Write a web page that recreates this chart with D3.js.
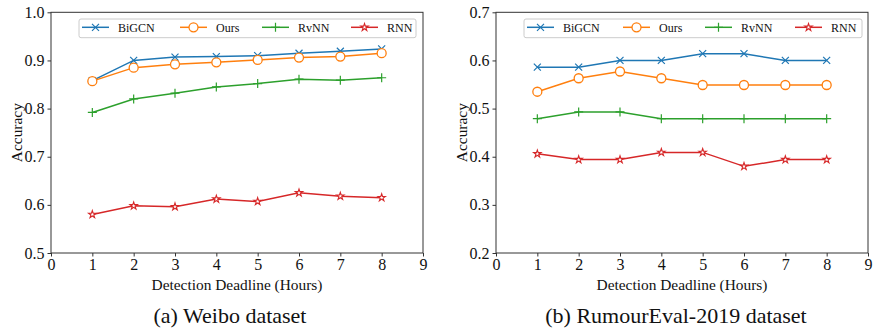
<!DOCTYPE html>
<html><head><meta charset="utf-8">
<script src="https://cdn.jsdelivr.net/npm/d3@7/dist/d3.min.js"></script>
<style>body{margin:0;background:#fff}svg{display:block}text{font-family:"Liberation Serif","Times New Roman",serif}</style>
</head><body><svg id="c" width="873" height="329"></svg>
<script>
const hours = [1,2,3,4,5,6,7,8];
const xTicks = [0,1,2,3,4,5,6,7,8,9];
const seriesNames = ["BiGCN","Ours","RvNN","RNN"];
// Weibo
const weiboBiGCN = [0.858,0.900,0.907,0.908,0.910,0.915,0.919,0.924];
const weiboOurs  = [0.857,0.885,0.892,0.896,0.901,0.906,0.908,0.915];
const weiboRvNN  = [0.792,0.820,0.832,0.845,0.852,0.861,0.859,0.864];
const weiboRNN   = [0.580,0.598,0.596,0.612,0.607,0.625,0.618,0.615];
const weiboYTicks = [0.5,0.6,0.7,0.8,0.9,1.0];
// RumourEval-2019
const rumBiGCN = [0.586,0.586,0.600,0.600,0.614,0.614,0.600,0.600];
const rumOurs  = [0.535,0.563,0.577,0.563,0.549,0.549,0.549,0.549];
const rumRvNN  = [0.479,0.493,0.493,0.479,0.479,0.479,0.479,0.479];
const rumRNN   = [0.406,0.394,0.394,0.409,0.409,0.380,0.394,0.394];
const rumYTicks = [0.2,0.3,0.4,0.5,0.6,0.7];

const colors = ["#1f77b4","#ff7f0e","#2ca02c","#d62728"];
const markers = ["x","o","+","star"];
const svg = d3.select("#c");

function marker(g, type, color){
  if(type==="x"){
    g.append("path").attr("d","M-3.5,-3.5L3.5,3.5M-3.5,3.5L3.5,-3.5").attr("stroke",color).attr("stroke-width",1.2).attr("fill","none");
  } else if(type==="o"){
    g.append("circle").attr("r",4.5).attr("fill","#fff").attr("stroke",color).attr("stroke-width",1.3);
  } else if(type==="+"){
    g.append("path").attr("d","M-4.5,0L4.5,0M0,-4.5L0,4.5").attr("stroke",color).attr("stroke-width",1.2).attr("fill","none");
  } else {
    g.append("path").attr("d",d3.symbol(d3.symbolStar,17)()).attr("fill","#fff").attr("stroke",color).attr("stroke-width",1.1);
  }
}

function panel(cfg){
  const x = d3.scaleLinear().domain([0,9]).range([cfg.left,cfg.right]);
  const y = d3.scaleLinear().domain([cfg.yTicks[0],cfg.yTicks[cfg.yTicks.length-1]]).range([253,12.3]);
  const g = svg.append("g");
  cfg.data.forEach((vals,i)=>{
    const line = d3.line().x((d,j)=>x(hours[j])).y(d=>y(d));
    g.append("path").datum(vals).attr("d",line).attr("fill","none").attr("stroke",colors[i]).attr("stroke-width",1.5);
    vals.forEach((v,j)=>{
      const m = g.append("g").attr("transform",`translate(${x(hours[j])},${y(v)})`);
      marker(m, markers[i], colors[i]);
    });
  });
  g.append("rect").attr("x",cfg.left).attr("y",12.3).attr("width",cfg.right-cfg.left).attr("height",253-12.3)
    .attr("fill","none").attr("stroke","#333").attr("stroke-width",1);
  const xa = g.append("g").attr("transform","translate(0,253)")
    .call(d3.axisBottom(x).tickValues(xTicks).tickFormat(d3.format("d")).tickSize(3.5).tickPadding(2));
  const ya = g.append("g").attr("transform",`translate(${cfg.left},0)`)
    .call(d3.axisLeft(y).tickValues(cfg.yTicks).tickFormat(d3.format(".1f")).tickSize(3.5).tickPadding(3));
  [xa,ya].forEach(a=>{
    a.select(".domain").remove();
    a.selectAll("line").attr("stroke","#333");
    a.selectAll("text").attr("font-size",16).attr("fill","#111").style("font-family","Liberation Serif");
  });
  xa.selectAll("text").attr("dy","0.71em");
  g.append("text").attr("x",(cfg.left+cfg.right)/2).attr("y",290).attr("text-anchor","middle")
    .attr("font-size",15.4).attr("fill","#111").text("Detection Deadline (Hours)");
  g.append("text").attr("transform",`translate(${cfg.left-29},${(12.3+253)/2}) rotate(-90)`).attr("text-anchor","middle")
    .attr("font-size",15.4).attr("fill","#111").text("Accuracy");
  g.append("text").attr("x",cfg.capX).attr("y",323).attr("text-anchor","middle")
    .attr("font-size",22).attr("fill","#111").text(cfg.caption);
  const lg = g.append("g");
  lg.append("rect").attr("x",cfg.legX).attr("y",19).attr("width",cfg.legW).attr("height",18.7).attr("rx",2)
    .attr("fill","#fff").attr("fill-opacity",0.8).attr("stroke","#ccc").attr("stroke-width",1);
  seriesNames.forEach((n,i)=>{
    const lx = cfg.legItems[i];
    lg.append("line").attr("x1",lx).attr("x2",lx+27).attr("y1",27.3).attr("y2",27.3).attr("stroke",colors[i]).attr("stroke-width",1.5);
    marker(lg.append("g").attr("transform",`translate(${lx+13.5},27.3)`), markers[i], colors[i]);
    lg.append("text").attr("x",lx+36).attr("y",31.5).attr("font-size",12).attr("fill","#111").text(n);
  });
}

panel({left:51,right:423,yTicks:weiboYTicks,data:[weiboBiGCN,weiboOurs,weiboRvNN,weiboRNN],
  caption:"(a) Weibo dataset",capX:230,legX:79,legW:337,legItems:[82,180,262,351]});
panel({left:496,right:868,yTicks:rumYTicks,data:[rumBiGCN,rumOurs,rumRvNN,rumRNN],
  caption:"(b) RumourEval-2019 dataset",capX:676,legX:524,legW:338,legItems:[527,623,705,795]});
</script></body></html>
